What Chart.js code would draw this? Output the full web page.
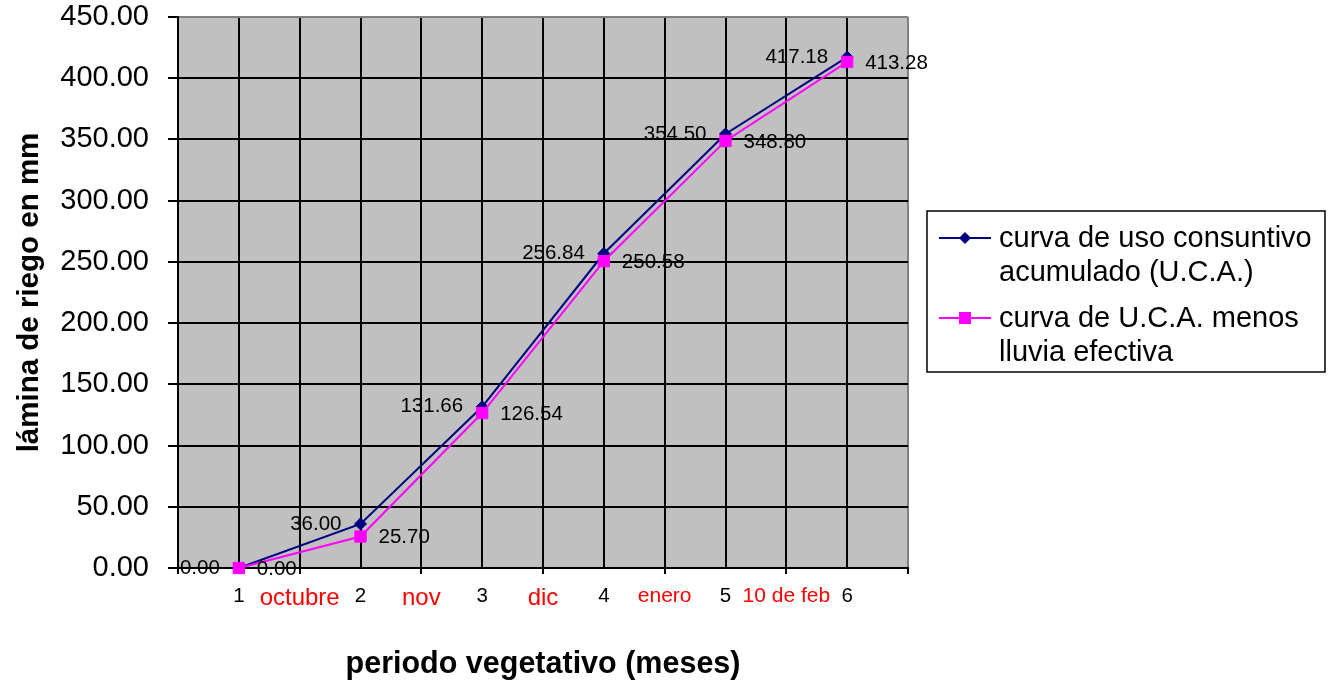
<!DOCTYPE html>
<html>
<head>
<meta charset="utf-8">
<title>lámina de riego</title>
<script src="https://cdn.jsdelivr.net/npm/chart.js@4.4.1/dist/chart.umd.min.js"></script>
<style>
  html, body { margin: 0; padding: 0; background: #fff; }
</style>
</head>
<body>
<canvas id="Chart1" width="1331" height="683"></canvas>

<script>
  // periodo vegetativo (meses)
  var periodos = [1, 2, 3, 4, 5, 6];
  // textos entre periodos: 0.5, 1.5, ... 6.5
  var meses = ['', 'octubre', 'nov', 'dic', 'enero', '10 de feb', ''];

  // curva de uso consuntivo acumulado (U.C.A.)
  var uca = [0.00, 36.00, 131.66, 256.84, 354.50, 417.18];
  // curva de U.C.A. menos lluvia efectiva
  var ucaMenosLluvia = [0.00, 25.70, 126.54, 250.58, 348.80, 413.28];

  var leyenda = [
    ['curva de uso consuntivo', 'acumulado (U.C.A.)'],
    ['curva de U.C.A. menos', 'lluvia efectiva']
  ];

  // eje y
  var yMin = 0, yMax = 450, yStep = 50;
  // eje x
  var xMin = 0.5, xMax = 6.5, xStep = 0.5;

  var FONT = 'Arial, "Liberation Sans", sans-serif';
  Chart.defaults.font.family = FONT;
  Chart.defaults.color = '#000';

  var NAVY = '#000080';
  var MAGENTA = '#FF00FF';
  var mesFont = { 'octubre': 24, 'nov': 24, 'dic': 24 };

  function esMedio(v) {
    return Math.round(v * 2) % 2 === 1;
  }

  // fondo gris del area de trazado
  var fondo = {
    id: 'fondo',
    beforeDraw: function (chart) {
      var a = chart.chartArea, ctx = chart.ctx;
      ctx.save();
      ctx.fillStyle = '#C0C0C0';
      ctx.fillRect(a.left, a.top, a.right - a.left, a.bottom - a.top);
      ctx.restore();
    }
  };

  // etiquetas de valores junto a cada punto
  var etiquetas = {
    id: 'etiquetas',
    afterDatasetsDraw: function (chart) {
      var ctx = chart.ctx;
      ctx.save();
      ctx.font = '20.5px ' + FONT;
      ctx.fillStyle = '#000';
      ctx.textBaseline = 'middle';
      chart.data.datasets.forEach(function (ds, d) {
        var meta = chart.getDatasetMeta(d);
        meta.data.forEach(function (pt, i) {
          var txt = ds.data[i].y.toFixed(2);
          if (d === 0) {
            ctx.textAlign = 'right';
            ctx.fillText(txt, pt.x - 19, pt.y);
          } else {
            ctx.textAlign = 'left';
            ctx.fillText(txt, pt.x + 18, pt.y + 1);
          }
        });
      });
      ctx.restore();
    }
  };

  // leyenda con recuadro a la derecha
  var cuadroLeyenda = {
    id: 'cuadroLeyenda',
    afterDraw: function (chart) {
      var ctx = chart.ctx;
      var bx = 927, by = 211, bw = 398, bh = 161;
      ctx.save();
      ctx.fillStyle = '#fff';
      ctx.fillRect(bx, by, bw, bh);
      ctx.strokeStyle = '#000';
      ctx.lineWidth = 1.5;
      ctx.strokeRect(bx, by, bw, bh);

      var filas = [238, 318];
      chart.data.datasets.forEach(function (ds, d) {
        var y = filas[d];
        ctx.strokeStyle = ds.borderColor;
        ctx.lineWidth = 2;
        ctx.beginPath();
        ctx.moveTo(939, y);
        ctx.lineTo(991, y);
        ctx.stroke();
        ctx.fillStyle = ds.borderColor;
        ctx.beginPath();
        if (ds.pointStyle === 'rectRot') {
          ctx.moveTo(965 - 6, y);
          ctx.lineTo(965, y - 6);
          ctx.lineTo(965 + 6, y);
          ctx.lineTo(965, y + 6);
          ctx.closePath();
        } else {
          ctx.rect(965 - 6, y - 6, 12, 12);
        }
        ctx.fill();

        ctx.fillStyle = '#000';
        ctx.font = '29px ' + FONT;
        ctx.textAlign = 'left';
        ctx.textBaseline = 'middle';
        leyenda[d].forEach(function (linea, k) {
          ctx.fillText(linea, 999, y + 1 + k * 34);
        });
      });
      ctx.restore();
    }
  };

  var ctx1 = document.getElementById('Chart1');
  var Chart1 = new Chart(ctx1, {
    type: 'line',
    data: {
      datasets: [{
        label: leyenda[0].join(' '),
        data: periodos.map(function (p, i) { return { x: p, y: uca[i] }; }),
        borderColor: NAVY,
        backgroundColor: NAVY,
        borderWidth: 2,
        pointStyle: 'rectRot',
        pointRadius: 6,
        pointBorderWidth: 1,
        pointBorderColor: NAVY,
        pointBackgroundColor: NAVY,
        tension: 0,
        fill: false,
        clip: false,
        order: 1
      }, {
        label: leyenda[1].join(' '),
        data: periodos.map(function (p, i) { return { x: p, y: ucaMenosLluvia[i] }; }),
        borderColor: MAGENTA,
        backgroundColor: MAGENTA,
        borderWidth: 2,
        pointStyle: 'rect',
        pointRadius: 8,
        pointBorderWidth: 1,
        pointBorderColor: MAGENTA,
        pointBackgroundColor: MAGENTA,
        tension: 0,
        fill: false,
        clip: false,
        order: 0
      }]
    },
    options: {
      responsive: false,
      animation: false,
      layout: { padding: { left: 0, top: 17, right: 423, bottom: 0 } },
      plugins: {
        legend: { display: false },
        tooltip: { enabled: false }
      },
      scales: {
        x: {
          type: 'linear',
          min: xMin,
          max: xMax,
          afterFit: function (s) {
            s.height = 115;
            s.paddingLeft = 0;
            s.paddingRight = 0;
          },
          ticks: {
            stepSize: xStep,
            autoSkip: false,
            maxRotation: 0,
            padding: 10,
            callback: function (v) {
              var k = Math.round(v * 2);
              if (k % 2 === 0) return String(k / 2);
              return meses[(k - 1) / 2];
            },
            color: function (c) {
              return c.tick && esMedio(c.tick.value) ? '#FF0000' : '#000';
            },
            font: function (c) {
              if (c.tick && esMedio(c.tick.value)) {
                var m = meses[Math.floor(c.tick.value)];
                return { size: mesFont[m] || 21 };
              }
              return { size: 20.5 };
            }
          },
          grid: {
            color: function (c) {
              return c.tick && c.tick.value === xMax ? '#808080' : '#000';
            },
            lineWidth: 2,
            tickLength: 6,
            tickWidth: 2,
            tickColor: function (c) {
              return c.tick && esMedio(c.tick.value) ? '#000' : 'rgba(0,0,0,0)';
            }
          },
          border: { color: '#000', width: 2 },
          title: {
            display: true,
            text: 'periodo vegetativo (meses)',
            color: '#000',
            font: { size: 30.5, weight: 'bold' },
            padding: { top: 0, bottom: 0 }
          }
        },
        y: {
          min: yMin,
          max: yMax,
          afterFit: function (s) {
            s.width = 178;
            s.paddingTop = 0;
            s.paddingBottom = 0;
          },
          ticks: {
            stepSize: yStep,
            padding: 19,
            font: { size: 29 },
            callback: function (v) { return v.toFixed(2); }
          },
          grid: {
            color: function (c) {
              return c.tick && c.tick.value === yMax ? '#808080' : '#000';
            },
            lineWidth: 2,
            tickLength: 10,
            tickWidth: 2,
            tickColor: '#000'
          },
          border: { color: '#000', width: 2 },
          title: {
            display: true,
            text: 'lámina de riego en mm',
            color: '#000',
            font: { size: 29.5, weight: 'bold' },
            padding: { top: 12, bottom: 0 }
          }
        }
      }
    },
    plugins: [fondo, etiquetas, cuadroLeyenda]
  });
</script>

</body>
</html>
